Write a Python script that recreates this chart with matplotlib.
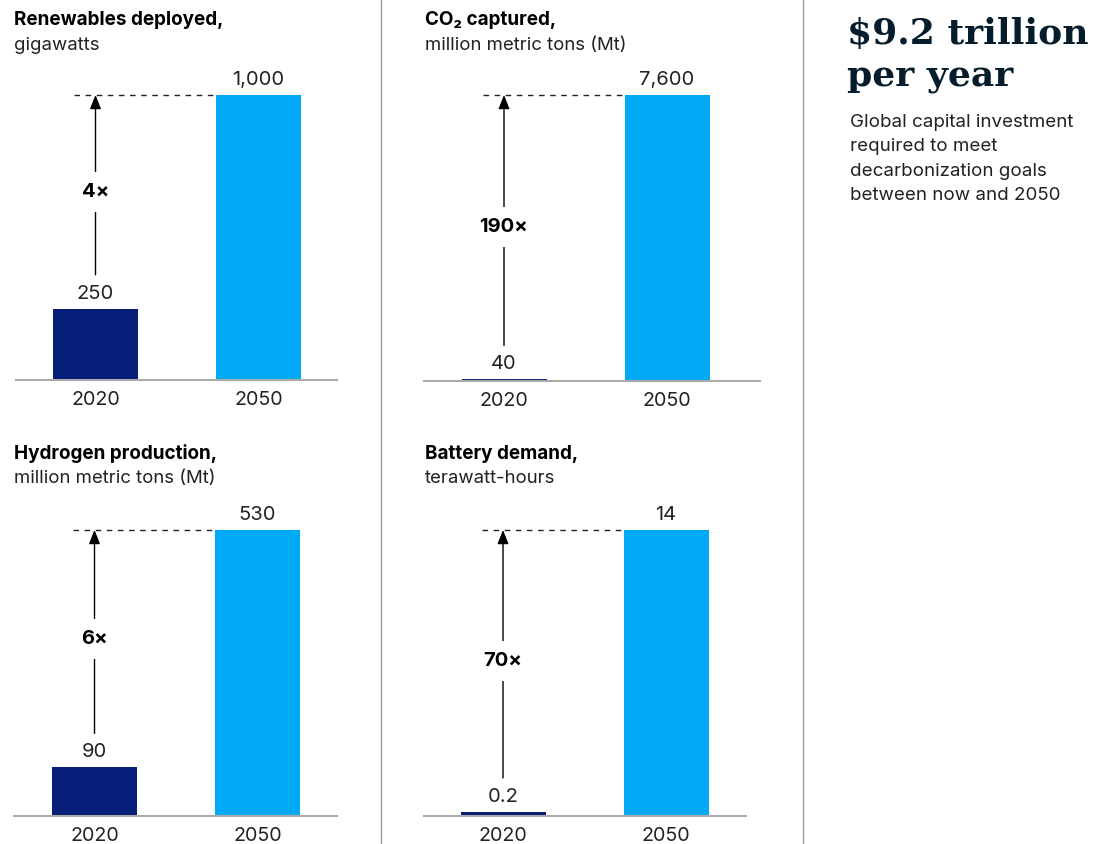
import matplotlib.pyplot as plt

plt.rcParams['font.family'] = ['Inter', 'DejaVu Sans']

# Values for each panel
titles = ["Renewables deployed,", "CO₂ captured,", "Hydrogen production,", "Battery demand,"]
units = ["gigawatts", "million metric tons (Mt)", "million metric tons (Mt)", "terawatt-hours"]
years = ["2020", "2050"]
values_2020 = [250, 40, 90, 0.2]
values_2050 = [1000, 7600, 530, 14]
value_labels_2020 = ["250", "40", "90", "0.2"]
value_labels_2050 = ["1,000", "7,600", "530", "14"]
multipliers = ["4×", "190×", "6×", "70×"]

headline = "$9.2 trillion\nper year"
blurb = ["Global capital investment", "required to meet",
         "decarbonization goals", "between now and 2050"]

DARK = "#071e78"
CYAN = "#00a9f4"
TEXT = "#222222"
W, H = 1100, 844

fig = plt.figure(figsize=(W / 100, H / 100), dpi=100)


def fx(px):
    return px / W


def fy(py):
    return 1 - py / H


# panel layout in pixels: axis left/right, first/second bar centre, baseline, bar top, title x/y
panels = [
    dict(x0=16, x1=337, c0=95.5, c1=258.5, base=380, top=95, tx=14, ty=18),
    dict(x0=424, x1=760, c0=504, c1=667, base=381, top=95, tx=425, ty=18),
    dict(x0=14, x1=337, c0=94.5, c1=257.5, base=816, top=530, tx=14, ty=452),
    dict(x0=424, x1=746, c0=503, c1=666, base=816, top=530, tx=425, ty=452),
]

for i, p in enumerate(panels):
    step = p["c1"] - p["c0"]
    ax = fig.add_axes([fx(p["x0"]), fy(p["base"]), (p["x1"] - p["x0"]) / W,
                       (p["base"] - p["top"]) / H])
    vmax = values_2050[i]
    low = values_2020[i]
    ax.set_xlim((p["x0"] - p["c0"]) / step, 1 + (p["x1"] - p["c1"]) / step)
    ax.set_ylim(0, vmax)
    ax.axis("off")
    bw = 85 / step
    ax.bar([0, 1], [low, vmax], width=bw, color=[DARK, CYAN], clip_on=False)
    ax.axhline(0, color="#aaaaaa", lw=1.5, clip_on=False)

    # value labels above bars and years below
    ax.annotate(value_labels_2020[i], (0, low), xytext=(0, 10), textcoords="offset pixels",
                ha="center", va="baseline", fontsize=14.5, color=TEXT, annotation_clip=False)
    ax.annotate(value_labels_2050[i], (1, vmax), xytext=(0, 10), textcoords="offset pixels",
                ha="center", va="baseline", fontsize=14.5, color=TEXT, annotation_clip=False)
    for j, yr in enumerate(years):
        ax.annotate(yr, (j, 0), xytext=(0, -25), textcoords="offset pixels",
                    ha="center", va="baseline", fontsize=14.2, color=TEXT,
                    annotation_clip=False)

    # dashed reference line at the 2050 level
    ax.plot([-21.5 / step, 1 - bw / 2], [vmax, vmax], color=TEXT, lw=1,
            ls=(0, (4, 4)), clip_on=False)

    # growth arrow from the 2020 label to the 2050 level
    per_px = vmax / (p["base"] - p["top"])
    start = low + 34 * per_px
    ax.annotate("", xy=(0, vmax), xytext=(0, start),
                arrowprops=dict(arrowstyle="-|>,head_length=0.7,head_width=0.28",
                                color="black", lw=1, shrinkA=0, shrinkB=0,
                                mutation_scale=12),
                annotation_clip=False)
    ax.text(0, (start + vmax) / 2 - 7 * per_px, multipliers[i], ha="center", va="center",
            fontsize=14.5, fontweight="bold", color="black",
            bbox=dict(facecolor="white", edgecolor="none", pad=8))

    fig.text(fx(p["tx"]), fy(p["ty"] + 2), titles[i], ha="left", va="center",
             fontsize=13.6, fontweight="bold", color="black")
    fig.text(fx(p["tx"]), fy(p["ty"] + 27), units[i], ha="left", va="center",
             fontsize=13.4, color=TEXT)

# vertical dividers
for xd in (381, 803):
    fig.add_artist(plt.Line2D([fx(xd), fx(xd)], [0, 1], color="#999999", lw=1))

fig.text(fx(847), fy(17), headline, ha="left", va="top", fontsize=26,
         fontweight="bold", family="DejaVu Serif", color="#051c2c", linespacing=1.3)
for k, line in enumerate(blurb):
    fig.text(fx(850), fy(127 + 24.4 * k), line, ha="left", va="baseline",
             fontsize=13.5, color=TEXT)

fig.savefig("out.png", dpi=100)
